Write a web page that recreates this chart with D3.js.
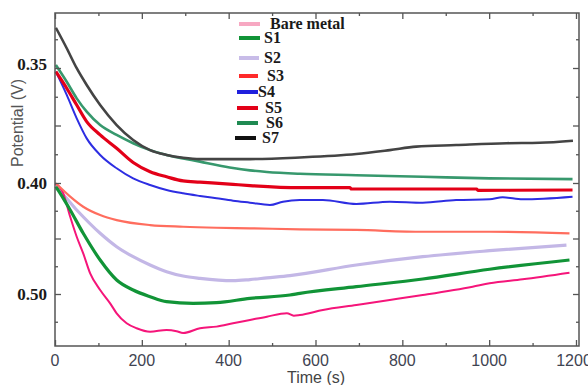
<!DOCTYPE html>
<html>
<head>
<meta charset="utf-8">
<script src="https://cdn.jsdelivr.net/npm/d3@7"></script>
<style>
  body { margin: 0; background: #fff; }
  svg { display: block; }
</style>
</head>
<body>
<svg width="588" height="385"></svg>
<script>
// readings from the picture, [time s, potential]
const bare = [[0,0.4003],[19,0.4093],[35,0.4304],[50,0.4484],[65,0.4634],[81,0.4814],[104,0.4964],[127,0.5084],[142,0.5174],[165,0.5264],[188,0.5309],[219,0.5340],[257,0.5324],[280,0.5335],[295,0.5352],[334,0.5309],[372,0.5294],[410,0.5264],[449,0.5234],[488,0.5204],[534,0.5174],[550,0.5195],[564,0.5189],[617,0.5144],[694,0.5099],[771,0.5054],[847,0.5009],[962,0.4934],[1001,0.4904],[1077,0.4868],[1185,0.4808]]
const s1 = [[2,0.4033],[12,0.4093],[35,0.4243],[65,0.4453],[104,0.4694],[142,0.4874],[180,0.4964],[219,0.5024],[257,0.5069],[318,0.5084],[372,0.5078],[449,0.5039],[541,0.5009],[564,0.4994],[694,0.4934],[847,0.4865],[1001,0.4777],[1185,0.4694]]
const s2 = [[2,0.4048],[12,0.4078],[50,0.4243],[104,0.4453],[142,0.4574],[180,0.4664],[219,0.4739],[257,0.4799],[295,0.4838],[334,0.4859],[410,0.4880],[449,0.4870],[488,0.4855],[541,0.4835],[694,0.4739],[847,0.4664],[1001,0.4610],[1178,0.4559]]
const s3 = [[2,0.4003],[35,0.4123],[65,0.4214],[104,0.4289],[142,0.4334],[219,0.4379],[295,0.4394],[372,0.4403],[449,0.4408],[564,0.4417],[694,0.4423],[847,0.4439],[1001,0.4439],[1185,0.4453]]
const s4 = [[2,0.3516],[27,0.3617],[50,0.3719],[73,0.3806],[104,0.3878],[142,0.3936],[180,0.3980],[219,0.4018],[257,0.4063],[295,0.4093],[334,0.4117],[372,0.4138],[410,0.4159],[449,0.4177],[495,0.4198],[525,0.4168],[564,0.4153],[617,0.4153],[694,0.4189],[771,0.4168],[847,0.4177],[924,0.4153],[1001,0.4147],[1031,0.4129],[1077,0.4147],[1192,0.4123]]
const s5 = [[2,0.3516],[27,0.3588],[50,0.3661],[73,0.3733],[104,0.3791],[142,0.3849],[180,0.3911],[219,0.3951],[257,0.3973],[295,0.3991],[334,0.3996],[410,0.4012],[449,0.4023],[564,0.4042],[679,0.4042],[683,0.4054],[971,0.4054],[974,0.4066],[1192,0.4063]]
const s6 = [[2,0.3487],[27,0.3560],[50,0.3632],[73,0.3690],[104,0.3748],[142,0.3791],[180,0.3827],[219,0.3857],[257,0.3878],[295,0.3893],[334,0.3907],[372,0.3922],[410,0.3935],[449,0.3945],[488,0.3952],[564,0.3960],[694,0.3966],[847,0.3973],[1001,0.3980],[1192,0.3983]]
const s7 = [[2,0.3325],[27,0.3414],[50,0.3501],[73,0.3574],[104,0.3661],[142,0.3748],[180,0.3813],[219,0.3857],[257,0.3878],[295,0.3890],[334,0.3896],[449,0.3896],[564,0.3889],[694,0.3874],[771,0.3857],[832,0.3842],[924,0.3835],[1040,0.3827],[1116,0.3825],[1193,0.3816]]

const seriesNames = ["Bare metal", "S1", "S2", "S3", "S4", "S5", "S6", "S7"]
const xTicks = [0, 200, 400, 600, 800, 1000, 1200]
const xMinor = [100, 300, 500, 700, 900, 1100]
const yTicks = [0.35, 0.375, 0.40, 0.45, 0.50]
const yMinor = [0.3375, 0.3625, 0.3875, 0.425, 0.475, 0.525]
const yLabels = { 0.35: "0.35", 0.4: "0.40", 0.5: "0.50" }

const svg = d3.select("svg")
const plotL = 55, plotR = 579, plotT = 13, plotB = 346

const x = d3.scaleLinear().domain([0, 1200]).range([55, 576])
// the printed labels are not evenly spaced, so the scale is piecewise
const y = d3.scaleLinear().domain([0.35, 0.40, 0.50]).range([68, 183, 294])

const styles = [
  { data: bare, color: "#f5157a", w: 2, key: "#f7a8c2" },
  { data: s1, color: "#119437", w: 3.2, key: "#119437" },
  { data: s2, color: "#c3b7e6", w: 3.2, key: "#c8bce8" },
  { data: s3, color: "#ff6d5e", w: 2.2, key: "#ff2a2a" },
  { data: s4, color: "#2d2de2", w: 2, key: "#2020dd" },
  { data: s5, color: "#e30018", w: 3.2, key: "#e30018" },
  { data: s6, color: "#37986d", w: 2.6, key: "#1f8a52" },
  { data: s7, color: "#444", w: 2.6, key: "#111" },
]

const line = d3.line()
  .x(d => x(d[0]))
  .y(d => y(d[1]))
  .curve(d3.curveMonotoneX)

const plot = svg.append("g")
const drawOrder = [2, 0, 1, 3, 4, 6, 5, 7]
drawOrder.forEach(i => {
  plot.append("path")
    .attr("d", line(styles[i].data))
    .attr("fill", "none")
    .attr("stroke", styles[i].color)
    .attr("stroke-width", styles[i].w)
    .attr("stroke-linejoin", "round")
})

// frame
svg.append("rect")
  .attr("x", plotL).attr("y", plotT)
  .attr("width", plotR - plotL).attr("height", plotB - plotT)
  .attr("fill", "none").attr("stroke", "#555").attr("stroke-width", 1.5)

function ticks(axis, at, vals, size) {
  const g = svg.append("g").attr("transform", at)
    .call(axis.tickValues(vals).tickSize(size).tickFormat(""))
  g.select(".domain").remove()
  g.selectAll("line").attr("stroke", "#555").attr("stroke-width", 1.3)
  return g
}

ticks(d3.axisBottom(x), `translate(0,${plotB})`, xTicks, -6)
ticks(d3.axisBottom(x), `translate(0,${plotB})`, xMinor, -3)
ticks(d3.axisTop(x), `translate(0,${plotT})`, xTicks, -6)
ticks(d3.axisTop(x), `translate(0,${plotT})`, xMinor, -3)
ticks(d3.axisLeft(y), `translate(${plotL},0)`, yTicks, -6)
ticks(d3.axisLeft(y), `translate(${plotL},0)`, yMinor, -3)
ticks(d3.axisRight(y), `translate(${plotR},0)`, yTicks, -6)
ticks(d3.axisRight(y), `translate(${plotR},0)`, yMinor, -3)

svg.append("g").selectAll("text").data(xTicks).join("text")
  .attr("x", d => x(d) - (d === 1200 ? 2 : 0))
  .attr("y", 366)
  .attr("text-anchor", "middle")
  .attr("font-family", "Liberation Sans, Arial, sans-serif")
  .attr("font-size", 16)
  .attr("fill", "#3f4452")
  .text(d => d)

svg.append("g").selectAll("text").data([0.35, 0.4, 0.5]).join("text")
  .attr("x", 47)
  .attr("y", d => y(d) + 6 - (d === 0.35 ? 4 : 0))
  .attr("text-anchor", "end")
  .attr("font-family", "Liberation Serif, Times New Roman, serif")
  .attr("font-weight", "bold")
  .attr("font-size", 17)
  .attr("fill", "#1a1a1a")
  .text(d => yLabels[d])

svg.append("text")
  .attr("x", 316).attr("y", 383)
  .attr("text-anchor", "middle")
  .attr("font-family", "Liberation Sans, Arial, sans-serif")
  .attr("font-size", 16)
  .attr("fill", "#444")
  .text("Time (s)")

svg.append("text")
  .attr("transform", "translate(23,123) rotate(-90)")
  .attr("text-anchor", "middle")
  .attr("font-family", "Liberation Sans, Arial, sans-serif")
  .attr("font-size", 16)
  .attr("fill", "#555")
  .text("Potential (V)")

// legend, entries are not quite aligned in the original
const legendPos = [
  { y: 24, x1: 239, x2: 260, tx: 270 },
  { y: 38, x1: 239, x2: 260, tx: 264 },
  { y: 58, x1: 239, x2: 259, tx: 264 },
  { y: 76, x1: 239, x2: 258, tx: 267 },
  { y: 92, x1: 237, x2: 258, tx: 258 },
  { y: 108, x1: 237, x2: 258, tx: 265 },
  { y: 123, x1: 237, x2: 258, tx: 266 },
  { y: 138, x1: 235, x2: 256, tx: 262 },
]
const legend = svg.append("g")
seriesNames.forEach((name, i) => {
  const p = legendPos[i]
  legend.append("line")
    .attr("x1", p.x1).attr("x2", p.x2)
    .attr("y1", p.y).attr("y2", p.y)
    .attr("stroke", styles[i].key)
    .attr("stroke-width", 4)
  legend.append("text")
    .attr("x", p.tx).attr("y", p.y + 5)
    .attr("font-family", "Liberation Serif, Times New Roman, serif")
    .attr("font-weight", "bold")
    .attr("font-size", 16)
    .attr("fill", "#1a1a1a")
    .text(name)
})
</script>
</body>
</html>
